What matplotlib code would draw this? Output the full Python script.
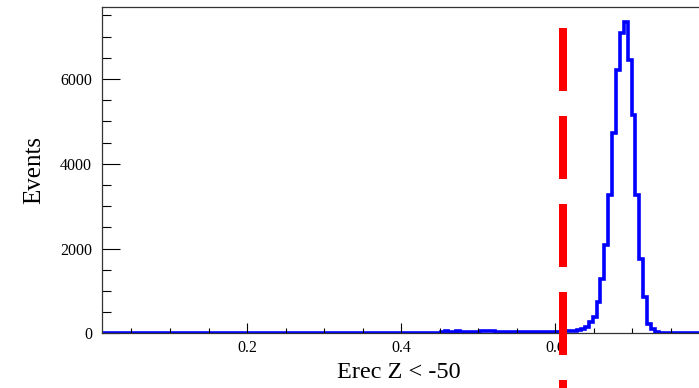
import numpy as np
import matplotlib
matplotlib.use("Agg")
import matplotlib.pyplot as plt
from matplotlib.ticker import MultipleLocator

plt.rcParams["font.family"] = ["Liberation Serif", "DejaVu Serif"]

# histogram binning
bin_lo = 0.0113
bin_width = 0.00506
counts = [
    5, 5, 6, 5, 5, 6, 5, 6, 5, 5, 6, 5, 6, 6, 5, 6, 5, 6, 6, 5,
    6, 6, 7, 6, 6, 7, 6, 7, 6, 7, 7, 6, 7, 7, 8, 7, 7, 8, 7, 8,
    8, 7, 8, 8, 9, 8, 8, 9, 8, 9, 9, 8, 9, 10, 9, 10, 9, 10, 10, 11,
    10, 11, 10, 11, 12, 11, 12, 12, 11, 12, 13, 12, 13, 14, 13, 14, 14, 15, 14, 15,
    16, 15, 16, 17, 16, 17, 18, 42, 45, 24, 26, 44, 42, 25, 26, 24, 27, 45, 47, 46,
    44, 27, 28, 26, 29, 28, 30, 29, 31, 30, 32, 33, 32, 34, 35, 36, 38, 38, 40, 45,
    50, 58, 75, 110, 160, 267, 385, 740, 1291, 2078, 3259, 4717, 6212, 7078, 7353, 6448,
    5149, 3259, 1764, 858, 229, 110, 40, 8, 6, 5, 5, 4, 4, 4, 3, 3, 3, 3,
]
edges = bin_lo + bin_width * np.arange(len(counts) + 1)

cut_value = 0.61
cut_top = 7211
cut_bottom = -3000

fig = plt.figure(figsize=(6.99, 3.88), dpi=100)
ax = fig.add_axes([101.7 / 699, 1 - 333.3 / 388, (702 - 101.7) / 699, (333.3 - 7.3) / 388])

ax.stairs(counts, edges, color="#0000ff", linewidth=2.6, baseline=0)
ax.plot([cut_value, cut_value], [cut_top, cut_bottom], color="#ff0000",
        linewidth=5.76, linestyle=(0, (7.875, 3.125)), solid_capstyle="butt",
        dash_capstyle="butt", clip_on=False, zorder=10)

ax.set_xlim(0.0113, 0.7909)
ax.set_ylim(0, 7690)

ax.xaxis.set_major_locator(MultipleLocator(0.2))
ax.xaxis.set_minor_locator(MultipleLocator(0.05))
ax.yaxis.set_major_locator(MultipleLocator(2000))
ax.yaxis.set_minor_locator(MultipleLocator(500))
ax.xaxis.set_major_formatter(matplotlib.ticker.FuncFormatter(lambda v, p: f"{v:.1f}"))

ax.tick_params(axis="x", which="major", direction="in", length=7, width=0.8,
               labelsize=11.5, pad=5, top=False)
ax.tick_params(axis="x", which="minor", direction="in", length=3.6, width=0.8, top=False)
ax.tick_params(axis="y", which="major", direction="in", length=13, width=0.8,
               labelsize=11.5, pad=7, right=False)
ax.tick_params(axis="y", which="minor", direction="in", length=6.5, width=0.8, right=False)

for side in ["left", "bottom", "top"]:
    ax.spines[side].set_linewidth(0.9)
    ax.spines[side].set_color("#333333")
ax.spines["right"].set_visible(False)

fig.text(399 / 699, 1 - 373 / 388, "Erec Z < -50", fontsize=17.5, ha="center", va="center")
fig.text(34 / 699, 1 - 170 / 388, "Events", fontsize=18, ha="center", va="center", rotation=90)

fig.savefig("out.png", dpi=100)
